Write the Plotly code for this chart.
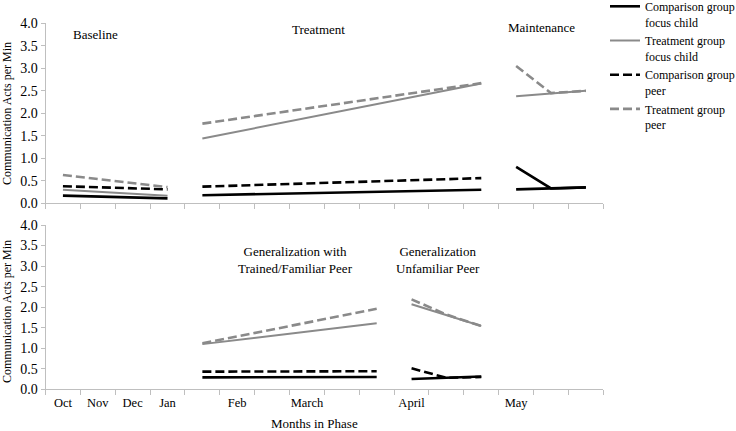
import plotly.graph_objects as go

W, H = 736, 431

# Category axis (16 month slots; some unlabeled)
months = ["Oct", "Nov", "Dec", "Jan", "", "Feb", "", "March", "", "",
          "April", "", "", "May", "", ""]

series_names = ["Comparison group<br>focus child", "Treatment group<br>focus child",
                "Comparison group<br>peer", "Treatment group<br>peer"]

# ---- Top panel phases (x = month slot index) ----
baseline_x = [0, 3]
baseline_comp_child = [0.17, 0.11]
baseline_treat_child = [0.30, 0.17]
baseline_comp_peer = [0.38, 0.31]
baseline_treat_peer = [0.63, 0.36]

treatment_x = [4, 12]
treatment_comp_child = [0.18, 0.30]
treatment_treat_child = [1.44, 2.66]
treatment_comp_peer = [0.37, 0.56]
treatment_treat_peer = [1.77, 2.67]

maint_x = [13, 14, 15]
maint_comp_child = [0.31, 0.33, 0.355]
maint_treat_child = [2.38, 2.44, 2.50]
maint_comp_peer = [0.81, 0.33, 0.35]
maint_treat_peer = [3.05, 2.45, 2.50]

# ---- Bottom panel phases ----
gen_trained_x = [4, 9]
gen_trained_comp_child = [0.29, 0.30]
gen_trained_treat_child = [1.10, 1.61]
gen_trained_comp_peer = [0.43, 0.44]
gen_trained_treat_peer = [1.12, 1.96]

gen_unfam_x = [10, 11, 12]
gen_unfam_comp_child = [0.25, 0.28, 0.31]
gen_unfam_treat_child = [2.07, 1.81, 1.54]
gen_unfam_comp_peer = [0.51, 0.28, 0.30]
gen_unfam_treat_peer = [2.19, 1.82, 1.54]

BLACK = "#000000"
GRAY = "#8A8A8A"
AX = "#BFBFBF"
FONT = "'Liberation Serif', 'Times New Roman', Times, serif"

styles = [
    dict(color=BLACK, width=2.6, dash="solid"),
    dict(color=GRAY, width=2.0, dash="solid"),
    dict(color=BLACK, width=2.6, dash="9px,4px"),
    dict(color=GRAY, width=2.6, dash="9px,4px"),
]

fig = go.Figure()
shown = set()


def add(x, y, idx, xa, ya, dash=None):
    st = dict(styles[idx])
    if dash:
        st["dash"] = dash
    fig.add_trace(go.Scatter(
        x=x, y=y, mode="lines", line=st, xaxis=xa, yaxis=ya,
        name=series_names[idx], legendgroup=str(idx),
        showlegend=idx not in shown, hoverinfo="skip"))
    shown.add(idx)


# legend order: first segments in series order
add(baseline_x, baseline_comp_child, 0, "x", "y")
add(baseline_x, baseline_treat_child, 1, "x", "y")
add(baseline_x, baseline_comp_peer, 2, "x", "y")
add(baseline_x, baseline_treat_peer, 3, "x", "y")

add(treatment_x, treatment_treat_peer, 3, "x", "y")
add(treatment_x, treatment_treat_child, 1, "x", "y")
add(treatment_x, treatment_comp_peer, 2, "x", "y")
add(treatment_x, treatment_comp_child, 0, "x", "y")

add(maint_x, maint_treat_peer, 3, "x", "y")
add(maint_x, maint_treat_child, 1, "x", "y")
add(maint_x, maint_comp_peer, 2, "x", "y", dash="solid")
add(maint_x, maint_comp_child, 0, "x", "y")

add(gen_trained_x, gen_trained_treat_peer, 3, "x2", "y2")
add(gen_trained_x, gen_trained_treat_child, 1, "x2", "y2")
add(gen_trained_x, gen_trained_comp_peer, 2, "x2", "y2")
add(gen_trained_x, gen_trained_comp_child, 0, "x2", "y2")

add(gen_unfam_x, gen_unfam_treat_peer, 3, "x2", "y2")
add(gen_unfam_x, gen_unfam_treat_child, 1, "x2", "y2")
add(gen_unfam_x, gen_unfam_comp_peer, 2, "x2", "y2")
add(gen_unfam_x, gen_unfam_comp_child, 0, "x2", "y2")

xdom = [45.5 / W, 603.3 / W]
top_dom = [1 - 203.3 / H, 1 - 23.3 / H]
bot_dom = [1 - 389.3 / H, 1 - 225.0 / H]

boundaries = [i - 0.5 for i in range(len(months) + 1)]


def xaxis(show_labels, anchor):
    return dict(
        domain=xdom, range=[-0.5, len(months) - 0.5], anchor=anchor,
        tickmode="array", tickvals=list(range(len(months))), ticktext=months,
        showticklabels=show_labels, ticks="outside", ticklen=2,
        tickcolor="rgba(0,0,0,0)",
        minor=dict(tickmode="array", tickvals=boundaries, ticks="outside",
                   ticklen=5, tickcolor=AX, showgrid=False),
        showline=True, linecolor=AX, linewidth=1, showgrid=False,
        zeroline=False, tickfont=dict(family=FONT, size=12.5, color="#000"),
        fixedrange=True)


def yaxis(dom, anchor):
    return dict(
        domain=dom, range=[0, 4], anchor=anchor, tickmode="linear", tick0=0,
        dtick=0.5, tickformat=".1f", ticks="outside", ticklen=4, tickcolor=AX,
        showline=True, linecolor=AX, linewidth=1, showgrid=False,
        zeroline=False, tickfont=dict(family=FONT, size=14, color="#000"),
        fixedrange=True)


def ann(text, px, py, size=13, angle=0):
    return dict(text=text, x=px / W, y=1 - py / H, xref="paper", yref="paper",
                showarrow=False, textangle=angle, xanchor="center",
                yanchor="middle", font=dict(family=FONT, size=size, color="#000"))


annotations = [
    ann("Baseline", 95, 34),
    ann("Treatment", 318, 30),
    ann("Maintenance", 541, 28),
    ann("Generalization with<br>Trained/Familiar Peer", 295, 260),
    ann("Generalization<br>Unfamiliar Peer", 438, 260),
    ann("Months in Phase", 314, 423),
    ann("Communication Acts per Min", 7, 114, size=12, angle=-90),
    ann("Communication Acts per Min", 7, 312, size=12, angle=-90),
]

fig.update_layout(
    width=W, height=H, margin=dict(l=0, r=0, t=0, b=0, autoexpand=False),
    paper_bgcolor="white", plot_bgcolor="white",
    xaxis=xaxis(False, "y"), yaxis=yaxis(top_dom, "x"),
    xaxis2=xaxis(True, "y2"), yaxis2=yaxis(bot_dom, "x2"),
    annotations=annotations,
    showlegend=True,
    legend=dict(x=605 / W, y=1 + 8 / H, xanchor="left", yanchor="top",
                valign="top", tracegroupgap=0, itemwidth=30,
                bgcolor="rgba(0,0,0,0)",
                font=dict(family=FONT, size=12, color="#000")),
)

fig.write_html("out.html", config={"displayModeBar": False},
               post_script="document.body.style.margin='0';document.body.style.padding='0';")
